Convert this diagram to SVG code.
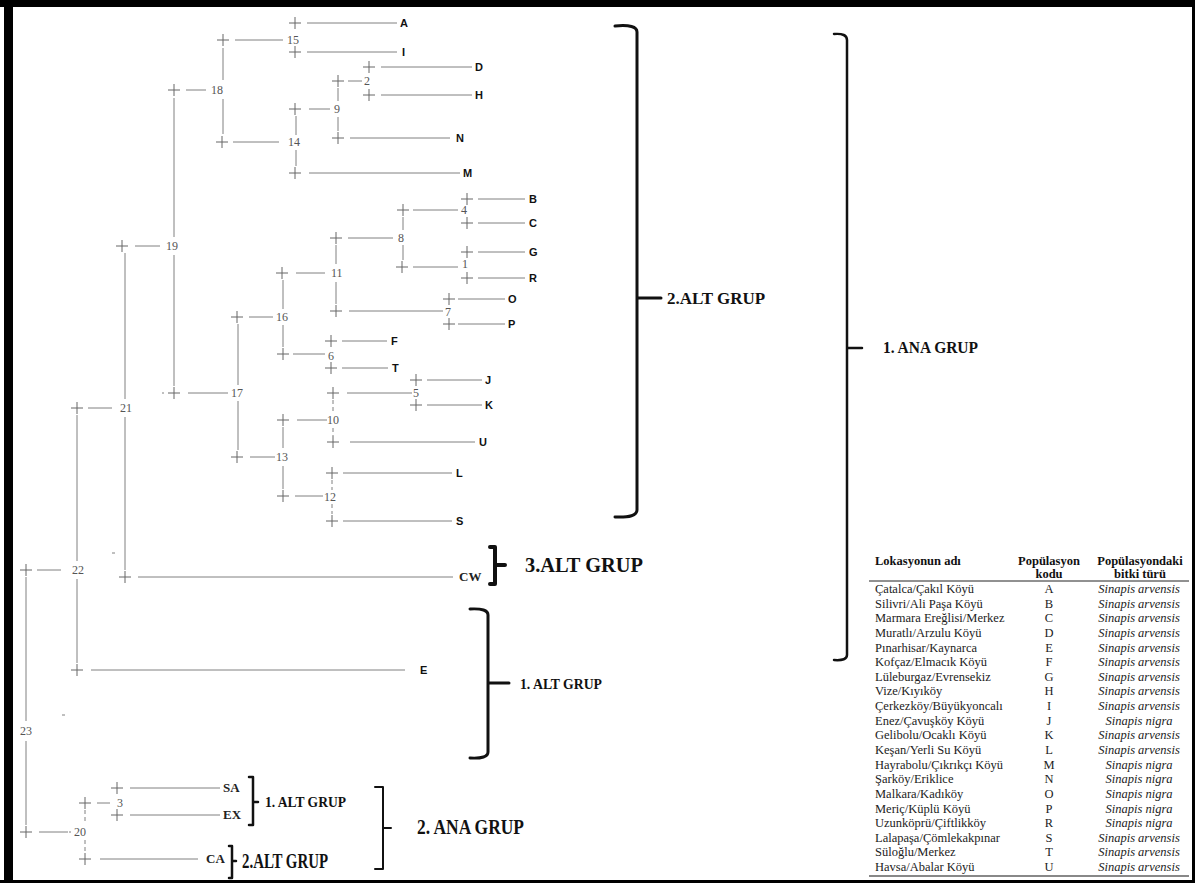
<svg xmlns="http://www.w3.org/2000/svg" xmlns:xlink="http://www.w3.org/1999/xlink" width="1195" height="883" viewBox="0 0 1195 883">
<style>
.ln{stroke:#808080;stroke-width:1;fill:none}
.dl{stroke:#808080;stroke-width:1;fill:none;stroke-dasharray:4 3}
.pl{stroke:#666;stroke-width:1;fill:none}
.num{font-family:"Liberation Serif",serif;font-size:12px;fill:#555}
.leaf{font-family:"Liberation Sans",Arial,sans-serif;font-size:11px;font-weight:bold;fill:#111}
.sleaf{font-family:"Liberation Serif",serif;font-size:13px;font-weight:bold;fill:#222}
.br{stroke:#111;fill:none;stroke-linecap:round;stroke-linejoin:round}
.grp{font-family:"Liberation Serif",serif;font-weight:bold;fill:#111}
.th{font-family:"Liberation Serif",serif;font-size:12.5px;font-weight:bold;fill:#111}
.td{font-family:"Liberation Serif",serif;font-size:12.5px;fill:#222}
.tc{font-family:"Liberation Serif",serif;font-size:12.5px;fill:#222;text-anchor:middle}
.ti{font-family:"Liberation Serif",serif;font-size:12.5px;font-style:italic;fill:#222;text-anchor:middle}
</style>
<defs>
<path id="plus" class="pl" d="M-6 0H6M0-6V6"/>
</defs>
<rect x="0" y="0" width="1195" height="883" fill="#fff"/>
<g id="frame">
<rect x="0" y="0" width="1195" height="7" fill="#000"/>
<rect x="4" y="0" width="9" height="883" fill="#000"/>
<rect x="1192" y="0" width="3" height="883" fill="#000"/>
<rect x="0" y="880" width="1195" height="3" fill="#000"/>
</g>
<g id="connectors">
<!-- leaf branches -->
<path class="ln" d="M307 23H397M307 52H397M381 67H472M381 95H472M350 138H450M309 173H460
M478 199H525M478 223H525M478 252H525M478 278H525M458 299H505M458 324H505
M342 341H387M342 368H388M427 380H482M427 405H482M350 442H475M343 473H452M343 521H452
M138 577H453M91 670H405M130 788H220M130 815H220M100 859H198"/>
<!-- internal branches -->
<path class="ln" d="M235 40H283M348 81H362M186 90H206M309 109H330M233 142H279M135 246H160
M413 210H458M348 238H393M413 267H458M296 273H325M349 311H443M249 317H273M293 354H325
M188 393H228M347 393H412M297 420H327M250 457H275M295 496H323M88 408H112M37 570H61M97 803H110M39 832H68"/>
<!-- verticals -->
<path class="ln" d="M338 88V101M338 117V131M296 116V135M296 150V166M223 48V80M223 99V134
M403 217V230M403 245V260M336 245V264M336 282V304M283 280V309M283 325V347
M283 427V448M283 466V489M238 324V385M238 401V450M174 98V237M174 255V386
M125 253V399M125 417V570M77 415V561M77 579V663M26 577V721M26 741V825"/>
<path class="dl" d="M333 400V412M333 428V436M332 480V490M332 504V514M85 810V824M85 840V852"/>
<path class="ln" d="M112 553H115M62 715H65M162 393H164M69 832H71"/>
</g>
<g id="nodes-plus">
<use xlink:href="#plus" x="295" y="23"/><use xlink:href="#plus" x="223" y="40"/><use xlink:href="#plus" x="295" y="52"/>
<use xlink:href="#plus" x="369" y="67"/><use xlink:href="#plus" x="338" y="81"/><use xlink:href="#plus" x="369" y="95"/>
<use xlink:href="#plus" x="174" y="90"/><use xlink:href="#plus" x="295" y="109"/><use xlink:href="#plus" x="338" y="138"/>
<use xlink:href="#plus" x="222" y="142"/><use xlink:href="#plus" x="295" y="173"/>
<use xlink:href="#plus" x="467" y="199"/><use xlink:href="#plus" x="403" y="210"/><use xlink:href="#plus" x="467" y="223"/>
<use xlink:href="#plus" x="336" y="238"/><use xlink:href="#plus" x="122" y="246"/><use xlink:href="#plus" x="467" y="252"/>
<use xlink:href="#plus" x="402" y="267"/><use xlink:href="#plus" x="282" y="273"/><use xlink:href="#plus" x="467" y="278"/>
<use xlink:href="#plus" x="449" y="299"/><use xlink:href="#plus" x="336" y="311"/><use xlink:href="#plus" x="237" y="317"/>
<use xlink:href="#plus" x="449" y="324"/><use xlink:href="#plus" x="331" y="341"/><use xlink:href="#plus" x="283" y="354"/>
<use xlink:href="#plus" x="331" y="368"/><use xlink:href="#plus" x="416" y="380"/><use xlink:href="#plus" x="174" y="393"/>
<use xlink:href="#plus" x="333" y="393"/><use xlink:href="#plus" x="416" y="405"/><use xlink:href="#plus" x="77" y="408"/>
<use xlink:href="#plus" x="283" y="420"/><use xlink:href="#plus" x="333" y="442"/><use xlink:href="#plus" x="237" y="457"/>
<use xlink:href="#plus" x="332" y="473"/><use xlink:href="#plus" x="283" y="496"/><use xlink:href="#plus" x="332" y="521"/>
<use xlink:href="#plus" x="26" y="570"/><use xlink:href="#plus" x="125" y="577"/><use xlink:href="#plus" x="77" y="670"/>
<use xlink:href="#plus" x="117" y="788"/><use xlink:href="#plus" x="85" y="803"/><use xlink:href="#plus" x="117" y="815"/>
<use xlink:href="#plus" x="26" y="832"/><use xlink:href="#plus" x="85" y="859"/>
</g>
<g id="node-numbers">
<text class="num" x="287" y="44">15</text><text class="num" x="364" y="85">2</text><text class="num" x="211" y="94">18</text>
<text class="num" x="334" y="113">9</text><text class="num" x="288" y="146">14</text><text class="num" x="166" y="250">19</text>
<text class="num" x="461" y="214">4</text><text class="num" x="398" y="242">8</text><text class="num" x="462" y="268">1</text>
<text class="num" x="331" y="277">11</text><text class="num" x="445" y="316">7</text><text class="num" x="276" y="321">16</text>
<text class="num" x="328" y="360">6</text><text class="num" x="231" y="397">17</text><text class="num" x="413" y="397">5</text>
<text class="num" x="327" y="424">10</text><text class="num" x="276" y="461">13</text><text class="num" x="324" y="501">12</text>
<text class="num" x="120" y="412">21</text><text class="num" x="72" y="574">22</text><text class="num" x="20" y="735">23</text>
<text class="num" x="117" y="807">3</text><text class="num" x="74" y="836">20</text>
</g>
<g id="leaves">
<text class="leaf" x="400" y="27">A</text><text class="leaf" x="402" y="56">I</text><text class="leaf" x="475" y="71">D</text>
<text class="leaf" x="475" y="99">H</text><text class="leaf" x="456" y="142">N</text><text class="leaf" x="463" y="177">M</text>
<text class="leaf" x="529" y="203">B</text><text class="leaf" x="529" y="227">C</text><text class="leaf" x="529" y="256">G</text>
<text class="leaf" x="529" y="282">R</text><text class="leaf" x="508" y="303">O</text><text class="leaf" x="508" y="328">P</text>
<text class="leaf" x="391" y="345">F</text><text class="leaf" x="392" y="372">T</text><text class="leaf" x="485" y="384">J</text>
<text class="leaf" x="485" y="409">K</text><text class="leaf" x="479" y="446">U</text><text class="leaf" x="456" y="477">L</text>
<text class="leaf" x="456" y="525">S</text><text class="leaf" x="420" y="674">E</text>
<text class="sleaf" x="459" y="581">CW</text><text class="sleaf" x="223" y="792">SA</text><text class="sleaf" x="223" y="819">EX</text>
<text class="sleaf" x="206" y="863">CA</text>
</g>
<g id="group-2alt-main">
<path class="br" stroke-width="3" d="M615 26Q637 24 637 32V510Q637 518 615 517M637 298H661"/>
<text class="grp" x="667" y="304" font-size="16" textLength="98" lengthAdjust="spacingAndGlyphs">2.ALT GRUP</text>
</g>
<g id="group-1ana">
<path class="br" stroke-width="2.5" d="M834 34Q847 33 847 40V655Q847 661 834 660M847 348H862"/>
<text class="grp" x="883" y="353" font-size="16" textLength="95" lengthAdjust="spacingAndGlyphs">1. ANA GRUP</text>
</g>
<g id="group-3alt">
<path class="br" stroke-width="4" d="M490 547H495V584H490M495 565H505"/>
<text class="grp" x="525" y="572" font-size="22" textLength="118" lengthAdjust="spacingAndGlyphs">3.ALT GRUP</text>
</g>
<g id="group-1alt-e">
<path class="br" stroke-width="3" d="M470 609Q488 608 488 615V752Q488 759 470 758M488 683H509"/>
<text class="grp" x="520" y="689" font-size="14" textLength="82" lengthAdjust="spacingAndGlyphs">1. ALT GRUP</text>
</g>
<g id="group-1alt-sa">
<path class="br" stroke-width="2.5" d="M249 777H253V825H249M253 802H258"/>
<text class="grp" x="265" y="807" font-size="14" textLength="81" lengthAdjust="spacingAndGlyphs">1. ALT GRUP</text>
</g>
<g id="group-2alt-ca">
<path class="br" stroke-width="2.5" d="M229 846H232V878H229M232 861H236"/>
<text class="grp" x="242" y="868" font-size="22" textLength="86" lengthAdjust="spacingAndGlyphs">2.ALT GRUP</text>
</g>
<g id="group-2ana">
<path class="br" stroke-width="2" d="M375 787H383V869H375M383 828H391"/>
<text class="grp" x="417" y="834" font-size="22" textLength="107" lengthAdjust="spacingAndGlyphs">2. ANA GRUP</text>
</g>
<g id="table">
<text class="th" x="875" y="565">Lokasyonun adı</text>
<text class="th" x="1049" y="565" text-anchor="middle">Popülasyon</text>
<text class="th" x="1049" y="578" text-anchor="middle">kodu</text>
<text class="th" x="1140" y="565" text-anchor="middle">Popülasyondaki</text>
<text class="th" x="1140" y="578" text-anchor="middle">bitki türü</text>
<line x1="869" y1="581" x2="1189" y2="581" stroke="#222" stroke-width="1"/>
<line x1="869" y1="876" x2="1189" y2="876" stroke="#888" stroke-width="2"/>
<text class="td" x="875" y="593">Çatalca/Çakıl Köyü</text><text class="tc" x="1049" y="593">A</text><text class="ti" x="1139" y="593">Sinapis arvensis</text>
<text class="td" x="875" y="607.6">Silivri/Ali Paşa Köyü</text><text class="tc" x="1049" y="607.6">B</text><text class="ti" x="1139" y="607.6">Sinapis arvensis</text>
<text class="td" x="875" y="622.3">Marmara Ereğlisi/Merkez</text><text class="tc" x="1049" y="622.3">C</text><text class="ti" x="1139" y="622.3">Sinapis arvensis</text>
<text class="td" x="875" y="636.9">Muratlı/Arzulu Köyü</text><text class="tc" x="1049" y="636.9">D</text><text class="ti" x="1139" y="636.9">Sinapis arvensis</text>
<text class="td" x="875" y="651.5">Pınarhisar/Kaynarca</text><text class="tc" x="1049" y="651.5">E</text><text class="ti" x="1139" y="651.5">Sinapis arvensis</text>
<text class="td" x="875" y="666.2">Kofçaz/Elmacık Köyü</text><text class="tc" x="1049" y="666.2">F</text><text class="ti" x="1139" y="666.2">Sinapis arvensis</text>
<text class="td" x="875" y="680.8">Lüleburgaz/Evrensekiz</text><text class="tc" x="1049" y="680.8">G</text><text class="ti" x="1139" y="680.8">Sinapis arvensis</text>
<text class="td" x="875" y="695.4">Vize/Kıyıköy</text><text class="tc" x="1049" y="695.4">H</text><text class="ti" x="1139" y="695.4">Sinapis arvensis</text>
<text class="td" x="875" y="710">Çerkezköy/Büyükyoncalı</text><text class="tc" x="1049" y="710">I</text><text class="ti" x="1139" y="710">Sinapis arvensis</text>
<text class="td" x="875" y="724.7">Enez/Çavuşköy Köyü</text><text class="tc" x="1049" y="724.7">J</text><text class="ti" x="1139" y="724.7">Sinapis nigra</text>
<text class="td" x="875" y="739.3">Gelibolu/Ocaklı Köyü</text><text class="tc" x="1049" y="739.3">K</text><text class="ti" x="1139" y="739.3">Sinapis arvensis</text>
<text class="td" x="875" y="753.9">Keşan/Yerli Su Köyü</text><text class="tc" x="1049" y="753.9">L</text><text class="ti" x="1139" y="753.9">Sinapis arvensis</text>
<text class="td" x="875" y="768.6">Hayrabolu/Çıkrıkçı Köyü</text><text class="tc" x="1049" y="768.6">M</text><text class="ti" x="1139" y="768.6">Sinapis nigra</text>
<text class="td" x="875" y="783.2">Şarköy/Eriklice</text><text class="tc" x="1049" y="783.2">N</text><text class="ti" x="1139" y="783.2">Sinapis nigra</text>
<text class="td" x="875" y="797.8">Malkara/Kadıköy</text><text class="tc" x="1049" y="797.8">O</text><text class="ti" x="1139" y="797.8">Sinapis nigra</text>
<text class="td" x="875" y="812.5">Meriç/Küplü Köyü</text><text class="tc" x="1049" y="812.5">P</text><text class="ti" x="1139" y="812.5">Sinapis nigra</text>
<text class="td" x="875" y="827.1">Uzunköprü/Çiftlikköy</text><text class="tc" x="1049" y="827.1">R</text><text class="ti" x="1139" y="827.1">Sinapis nigra</text>
<text class="td" x="875" y="841.7">Lalapaşa/Çömlekakpınar</text><text class="tc" x="1049" y="841.7">S</text><text class="ti" x="1139" y="841.7">Sinapis arvensis</text>
<text class="td" x="875" y="856.4">Süloğlu/Merkez</text><text class="tc" x="1049" y="856.4">T</text><text class="ti" x="1139" y="856.4">Sinapis arvensis</text>
<text class="td" x="875" y="871">Havsa/Abalar Köyü</text><text class="tc" x="1049" y="871">U</text><text class="ti" x="1139" y="871">Sinapis arvensis</text>
</g>
</svg>
